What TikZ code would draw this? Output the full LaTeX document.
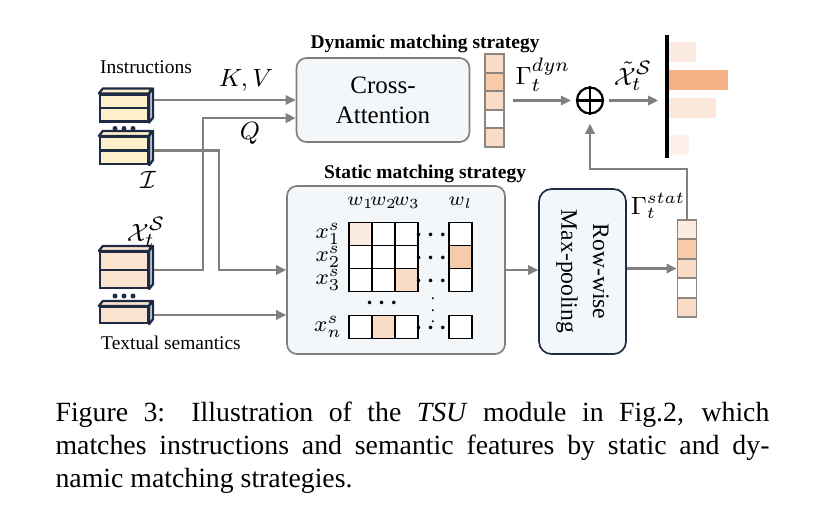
\documentclass[tikz,border=0pt]{standalone}
\usepackage{fontspec}
\setmainfont{Liberation Serif}
\usepackage{amsmath,amssymb}
\usetikzlibrary{arrows.meta}

\definecolor{arrowgray}{HTML}{808080}
\definecolor{boxgray}{HTML}{7F7F7F}
\definecolor{boxfill}{HTML}{F4F7FA}
\definecolor{navy}{HTML}{1F2B45}
\definecolor{insfill}{HTML}{FFF0CC}
\definecolor{semfill}{HTML}{FBE3D0}
\definecolor{sidefill}{HTML}{B4C3C9}
\definecolor{cellgray}{HTML}{8C8580}
\definecolor{orpale}{HTML}{FCEBE0}
\definecolor{orlight}{HTML}{FADCC6}
\definecolor{ormid}{HTML}{F7CBA9}
\definecolor{ordark}{HTML}{F4B183}

\begin{document}
\begin{tikzpicture}
		[x=0.36pt,y=-0.36pt,every node/.style={inner sep=0pt},
		arr/.style={-{Triangle[length=3.6pt,width=3.4pt]},draw=arrowgray,line width=0.75pt},
		roundbox/.style={draw=boxgray,fill=boxfill,line width=0.6pt,rounded corners=3.6pt},
		featbox/.style={draw=navy,line width=0.8pt,minimum width=48*0.36pt},
		featline/.style={draw=navy,line width=0.8pt,line join=round},
		vcell/.style={draw=cellgray,line width=0.7pt,minimum width=19*0.36pt},
		mcell/.style={draw=black,fill=white,line width=0.7pt,minimum size=23*0.36pt},
		cell 11/.style={fill=orpale},cell 2l/.style={fill=ormid},
		cell 33/.style={fill=orlight},cell n2/.style={fill=orlight},
		lbl/.style={font=\fontsize{7}{8.4}\selectfont},
		title/.style={font=\bfseries\fontsize{7}{8.4}\selectfont},
		mlbl/.style={font=\fontsize{8}{9.5}\selectfont},
		sym/.style={font=\fontsize{9.5}{11}\selectfont}]
		\useasboundingbox (0,0) rectangle (827,523);
		
		% feature stacks
		\foreach \nm/\yc/\rows/\rh/\col in {ins1/108/2/13.5/insfill,ins2/150.5/2/13.5/insfill,sem1/270/2/18/semfill,sem2/315/1/16/semfill}{
			\node[featbox,fill=\col,minimum height=\rows*\rh*0.36pt] (\nm) at (124,\yc) {};
			\draw[featline,fill=\col] (\nm.north west) -- ++(4,-5) -- ++(48,0) -- (\nm.north east) -- cycle;
			\draw[featline,fill=sidefill] (\nm.north east) -- ++(4,-5) -- ([shift={(4,-5)}]\nm.south east) -- (\nm.south east) -- cycle;
			\ifnum\rows=2 \draw[featline] (\nm.west) -- (\nm.east); \fi
		}
		\foreach \dx in {-9,0,9}{
			\fill[navy] ({124+\dx},128.5) circle (0.9pt);
			\fill[navy] ({124+\dx},296) circle (0.9pt);
		}
		\node[lbl] (inslbl) at (146,67) {Instructions};
		\node[lbl] (semlbl) at (171,343) {Textual semantics};
		\node[sym] (ilbl) at (148,180) {$\mathcal{I}$};
		\node[sym] (xlbl) at (146,232) {$\mathcal{X}_t^{\mathcal{S}}$};
		
		% dynamic branch
		\node[title] (dyntitle) at (425,44) {Dynamic matching strategy};
		\node[roundbox,minimum width=173*0.36pt,minimum height=84*0.36pt,align=center,
		font=\fontsize{9}{10.8}\selectfont] (ca) at (383,100) {Cross-\\Attention};
		\foreach \i/\col in {1/orlight,2/ormid,3/orlight,4/white,5/orlight}
		\node[vcell,fill=\col,minimum height=18.6*0.36pt] (dv\i) at (494.5,{44.7+18.6*\i}) {};
		\node[sym] (gdyn) at (543,75) {$\Gamma_t^{dyn}$};
		\node[circle,draw=black,line width=0.8pt,minimum size=26*0.36pt] (plus) at (590,100.5) {};
		\draw[line width=0.8pt] (plus.north) -- (plus.south) (plus.west) -- (plus.east);
		\node[sym] (xtil) at (633,76) {$\tilde{\mathcal{X}}_t^{\mathcal{S}}$};
		
		% output bars
		\coordinate (axtop) at (667,35);
		\coordinate (axbot) at (667,158);
		\foreach \ya/\yb/\xe/\col in {42/62/696/orpale,70/90/728/ordark,98/118/716/orpale!80!orlight,135/155/689/orpale!70!white}
		\fill[\col] (668,\ya) rectangle (\xe,\yb);
		\draw[line width=1.1pt] (axtop) -- (axbot);
		
		% static branch
		\node[title] (stattitle) at (425,174) {Static matching strategy};
		\node[roundbox,minimum width=218*0.36pt,minimum height=168*0.36pt] (sm) at (396,270) {};
		\foreach \r/\yy in {1/234,2/257,3/280,n/327}{
			\foreach \c/\xx in {1/360.5,2/383.5,3/406.5,l/460.5}
			\node[mcell,cell \r\c/.try] (m\r\c) at (\xx,\yy) {};
			\node[mlbl] (x\r) at (328,\yy) {$x_{\r}^{s}$};
			\node[mlbl] (hd\r) at (433,{\yy+1}) {$\boldsymbol{\cdots}$};
		}
		\foreach \c/\xx in {1/360.5,2/383.5,3/406.5,l/460.5}
		\node[mlbl,font=\fontsize{7}{8.4}\selectfont] (w\c) at (\xx,203) {$w_{\c}$};
		\node[mlbl,font=\fontsize{6}{7}\selectfont] (vd) at (433,302) {$\boldsymbol{\vdots}$};
		\node[mlbl] (hdm) at (384,303) {$\boldsymbol{\cdots}$};
		
		\node[roundbox,draw=navy,rounded corners=4.5pt,minimum width=87*0.36pt,minimum height=165*0.36pt] (mp) at (582.5,271.5) {};
		\node[rotate=-90,align=center,font=\fontsize{8.5}{11.5}\selectfont] (mptext) at (mp.center) {Row-wise\\Max-pooling};
		\foreach \i/\col in {1/orpale,2/ormid,3/orlight,4/white,5/orlight}
		\node[vcell,fill=\col,minimum height=19.4*0.36pt] (sv\i) at (687,{210.3+19.4*\i}) {};
		\node[sym,font=\fontsize{9}{11}\selectfont] (gstat) at (658,206) {$\Gamma_t^{stat}$};
		
		% connectors
		\draw[arr,shorten <=1.8pt] (ins1.east |- ca.west) -- (ca.west);
		\node[sym] (kv) at (246,80) {$K,V$};
		\draw[arr,shorten <=1.8pt] (sem1.east) -- ++(54,0) |- ([yshift=-6.5pt]ca.west);
		\node[sym] (q) at (250,133) {$Q$};
		\draw[arr,shorten <=1.8pt] (ins2.east) -- ++(70,0) |- (sm.west);
		\draw[arr,shorten <=1.8pt] (sem2.east) -- (sem2.east -| sm.west);
		\draw[arr,shorten <=2.9pt,shorten >=1.8pt] (dv3.east) -- (plus.west);
		\draw[arr,shorten <=1.8pt,shorten >=3.2pt] (plus.east) -- (plus.east -| axtop);
		\draw[arr] (sm.east) -- (sm.east -| mp.west);
		\draw[arr] (mp.east |- sv3.west) -- (sv3.west);
		\draw[arr,shorten >=3.3pt] (sv1.north) -- ++(0,-50) -| (plus.south);
		
		% caption
		\node[anchor=north west,text width=257pt,align=justify,font=\fontsize{10}{11.9}\selectfont] (cap) at (55,401)
		{Figure 3: Illustration of the \textit{TSU} module in Fig.2, which\linebreak matches instructions and semantic features by static and dy-\linebreak namic matching strategies.};
		\end{tikzpicture}
\end{document}
